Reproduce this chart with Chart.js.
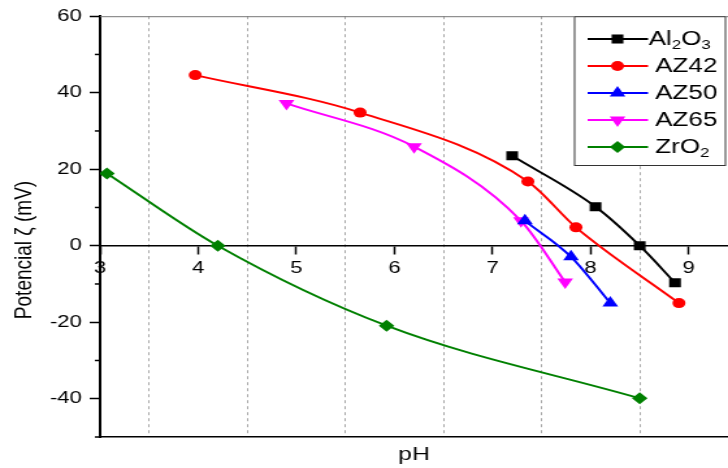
<!DOCTYPE html>
<html>
<head>
<meta charset="utf-8">
<script src="https://cdn.jsdelivr.net/npm/chart.js@4/dist/chart.umd.min.js"></script>
<style>
  html, body { margin: 0; padding: 0; background: #ffffff; overflow: hidden; }
  #wrap { width: 560px; height: 468px; transform: scaleX(1.3); transform-origin: 0 0; }
  #zeta { display: block; width: 560px; height: 468px; }
</style>
</head>
<body>
<div id="wrap"><canvas id="zeta" width="560" height="468"></canvas></div>
<script>
// dados (pH, potencial zeta em mV)
const seriesNames = ['Al₂O₃', 'AZ42', 'AZ50', 'AZ65', 'ZrO₂'];
const phAl2O3 = [7.2, 8.05, 8.5, 8.86];
const zetaAl2O3 = [23.5, 10.2, 0, -9.7];
const phAZ42 = [3.97, 5.65, 7.36, 7.85, 8.9];
const zetaAZ42 = [44.6, 34.8, 16.8, 4.8, -15];
const phAZ50 = [7.33, 7.8, 8.2];
const zetaAZ50 = [6.5, -2.9, -15];
const phAZ65 = [4.9, 6.2, 7.29, 7.74];
const zetaAZ65 = [37.2, 25.9, 6.5, -9.5];
const phZrO2 = [3.07, 4.2, 5.92, 8.5];
const zetaZrO2 = [18.9, 0, -20.9, -39.9];

const xTicks = [3, 4, 5, 6, 7, 8, 9];
const yTicks = [60, 40, 20, 0, -20, -40];

const FONT = 'Liberation Sans, Arial, sans-serif';

function pts(xs, ys) {
    return xs.map((x, i) => ({ x: x, y: ys[i] }));
}

const styles = [
    { color: '#000000', point: 'rect', radius: 6.4, rotation: 0 },
    { color: '#ff0000', point: 'circle', radius: 5, rotation: 0 },
    { color: '#0000ff', point: 'triangle', radius: 7, rotation: 0 },
    { color: '#ff00ff', point: 'triangle', radius: 7, rotation: 180 },
    { color: '#008000', point: 'rectRot', radius: 6, rotation: 0 }
];

const allData = [
    pts(phAl2O3, zetaAl2O3),
    pts(phAZ42, zetaAZ42),
    pts(phAZ50, zetaAZ50),
    pts(phAZ65, zetaAZ65),
    pts(phZrO2, zetaZrO2)
];

const datasets = allData.map((d, i) => ({
    label: seriesNames[i],
    data: d,
    showLine: true,
    borderColor: styles[i].color,
    backgroundColor: styles[i].color,
    borderWidth: 2,
    pointStyle: styles[i].point,
    pointRadius: styles[i].radius,
    pointRotation: styles[i].rotation,
    pointBorderWidth: 0,
    pointBackgroundColor: styles[i].color,
    cubicInterpolationMode: 'monotone'
}));

// subscritos unicode -> dígito pequeno
const SUB = { '₀': '0', '₁': '1', '₂': '2', '₃': '3', '₄': '4' };

function drawRich(ctx, text, x, y, size) {
    let cx = x;
    for (const ch of text) {
        if (SUB[ch]) {
            ctx.font = Math.round(size * 0.65) + 'px ' + FONT;
            ctx.fillText(SUB[ch], cx, y + size * 0.3);
            cx += ctx.measureText(SUB[ch]).width;
        } else {
            ctx.font = size + 'px ' + FONT;
            ctx.fillText(ch, cx, y);
            cx += ctx.measureText(ch).width;
        }
    }
}

const extras = {
    id: 'extras',
    afterDraw(chart) {
        const ctx = chart.ctx;
        const area = chart.chartArea;
        const ys = chart.scales.y;
        ctx.save();
        // moldura superior
        ctx.strokeStyle = '#777777';
        ctx.lineWidth = 1;
        ctx.beginPath();
        ctx.moveTo(area.left, area.top + 0.5);
        ctx.lineTo(area.right, area.top + 0.5);
        ctx.stroke();
        // ticks menores do eixo y
        ctx.strokeStyle = '#000000';
        ctx.lineWidth = 1.5;
        for (let v = ys.min; v <= ys.max; v += 10) {
            if (yTicks.includes(v)) continue;
            const py = ys.getPixelForValue(v);
            ctx.beginPath();
            ctx.moveTo(area.left - 4, py);
            ctx.lineTo(area.left, py);
            ctx.stroke();
        }
        // título do eixo y
        ctx.save();
        ctx.translate(19, 250);
        ctx.rotate(-Math.PI / 2);
        ctx.fillStyle = '#000000';
        ctx.font = '19px ' + FONT;
        ctx.textAlign = 'center';
        ctx.textBaseline = 'middle';
        ctx.fillText('Potencial ζ (mV)', 0, 0);
        ctx.restore();
        // legenda
        const box = { left: 441.5, top: area.top, right: 558.5, bottom: 166 };
        ctx.fillStyle = '#ffffff';
        ctx.fillRect(box.left, box.top, box.right - box.left, box.bottom - box.top);
        ctx.strokeStyle = '#333333';
        ctx.lineWidth = 1;
        ctx.strokeRect(box.left + 0.5, box.top + 0.5, box.right - box.left - 1, box.bottom - box.top - 1);
        chart.data.datasets.forEach((ds, i) => {
            const ly = 39 + i * 27;
            ctx.strokeStyle = ds.borderColor;
            ctx.lineWidth = 2;
            ctx.beginPath();
            ctx.moveTo(452, ly);
            ctx.lineTo(498.5, ly);
            ctx.stroke();
            ctx.fillStyle = ds.borderColor;
            Chart.helpers.drawPoint(ctx, {
                pointStyle: ds.pointStyle,
                rotation: ds.pointRotation,
                radius: ds.pointRadius,
                borderWidth: 0
            }, 475, ly);
            ctx.fillStyle = '#000000';
            ctx.textBaseline = 'middle';
            ctx.textAlign = 'left';
            drawRich(ctx, ds.label, i === 0 ? 499 : 504, ly, 20);
        });
        ctx.restore();
    }
};

const chart = new Chart(document.getElementById('zeta').getContext('2d'), {
    type: 'scatter',
    data: { datasets: datasets },
    options: {
        responsive: false,
        animation: false,
        layout: { autoPadding: false, padding: { top: 15, right: 0, bottom: 0, left: 0 } },
        plugins: {
            legend: { display: false },
            tooltip: { enabled: false }
        },
        scales: {
            x: {
                type: 'linear',
                position: { y: 0 },
                min: 3,
                max: 9.4,
                border: { display: true, color: '#000000', width: 1.5, dash: [3, 3] },
                grid: {
                    color: (c) => (c.tick && Math.abs(c.tick.value % 1 - 0.5) < 1e-6) ? '#a8a8a8' : 'rgba(0,0,0,0)',
                    lineWidth: 1,
                    tickLength: 8,
                    tickWidth: 1.5,
                    tickColor: (c) => (c.tick && xTicks.includes(c.tick.value)) ? '#000000' : 'rgba(0,0,0,0)'
                },
                ticks: {
                    stepSize: 0.5,
                    includeBounds: false,
                    autoSkip: false,
                    maxRotation: 0,
                    padding: 4,
                    color: '#000000',
                    font: { family: FONT, size: 17 },
                    callback: (v) => xTicks.includes(v) ? String(v) : ''
                },
                afterFit: (s) => { s.paddingLeft = 0; s.paddingRight = 0; }
            },
            x2: {
                type: 'linear',
                position: 'bottom',
                min: 3,
                max: 9.4,
                border: { display: true, color: '#000000', width: 1.5 },
                grid: { display: false, drawTicks: false },
                ticks: { display: false },
                title: {
                    display: true,
                    text: 'pH',
                    color: '#000000',
                    font: { family: FONT, size: 19 },
                    padding: { top: 0, bottom: 2 }
                },
                afterFit: (s) => { s.height = 31; s.paddingLeft = 0; s.paddingRight = 0; }
            },
            y: {
                type: 'linear',
                position: 'left',
                min: -50,
                max: 60,
                border: { display: true, color: '#000000', width: 2 },
                grid: {
                    drawOnChartArea: false,
                    tickLength: 8,
                    tickWidth: 1.5,
                    tickColor: (c) => (c.tick && yTicks.includes(c.tick.value)) ? '#000000' : 'rgba(0,0,0,0)'
                },
                ticks: {
                    stepSize: 10,
                    padding: 6,
                    color: '#000000',
                    font: { family: FONT, size: 17 },
                    callback: (v) => yTicks.includes(v) ? String(v) : ''
                },
                afterFit: (s) => { s.width = 77; }
            }
        }
    },
    plugins: [extras]
});
</script>
</body>
</html>
